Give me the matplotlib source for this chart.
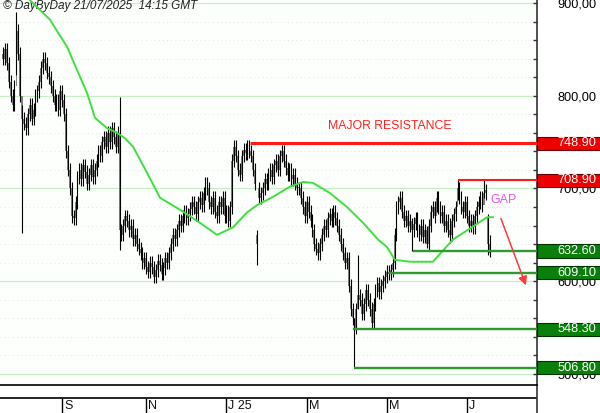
import numpy as np
import matplotlib.pyplot as plt
from matplotlib.patches import Rectangle
from matplotlib.transforms import blended_transform_factory

# -------------------------------
# Data
# -------------------------------

closes = [
    840, 850, 835, 815, 800, 790, 810, 870, 845, 800,
    775, 770, 765, 780, 790, 775, 785, 800, 805, 815,
    830, 840, 835, 825, 820, 810, 800, 790, 795, 785,
    805, 795, 780, 740, 720, 700, 670, 668, 685, 712,
    720, 710, 725, 718, 705, 715, 725, 712, 720, 730,
    740, 735, 750, 755, 745, 760, 750, 765, 755, 745,
    760, 655, 650, 660, 670, 665, 655, 660, 645, 650,
    640, 635, 630, 620, 625, 615, 610, 620, 615, 605,
    612, 622, 618, 608, 614, 625, 620, 630, 640, 650,
    645, 655, 665, 660, 670, 675, 668, 672, 678, 685,
    680, 672, 685, 690, 682, 695, 705, 700, 685, 680,
    690, 675, 670, 685, 680, 690, 670, 675, 665, 680,
    730, 745, 735, 720, 715, 735, 742, 738, 745, 740,
    735, 720, 705, 640, 690, 695, 700, 710, 705, 715,
    720, 712, 725, 730, 720, 735, 740, 730, 722, 715,
    720, 710, 715, 705, 700, 700, 690, 680, 670, 685,
    675, 665, 655, 640, 635, 630, 640, 650, 660, 655,
    668, 672, 665, 675, 668, 660, 650, 640, 630, 620,
    625, 595, 570, 560, 550, 570, 585, 580, 565, 575,
    590, 580, 570, 555, 575, 590, 598, 588, 595, 600,
    605, 610, 608, 612, 620, 650, 680, 685, 690, 675,
    665, 670, 660, 665, 655, 662, 668, 655, 650, 660,
    648, 655, 640, 660, 675, 680, 670, 690, 680, 670,
    675, 660, 665, 655, 650, 665, 672, 680, 700, 690,
    680, 675, 685, 670, 660, 665, 658, 670, 680, 685,
    690, 682, 695, 698, 640, 630,
]

# bars whose open is not the previous close
open_override = {133: 650, 134: 700, 254: 668, 255: 640}

# bars with long wicks: index -> (high, low)
spikes = {
    7: (890, 822), 10: (790, 652), 61: (799, 634), 133: (655, 618),
    184: (560, 507), 186: (628, 570), 193: (578, 548), 214: (668, 633),
    222: (660, 636), 227: (697, 675), 234: (668, 641), 238: (709, 688),
    252: (709, 690), 254: (672, 628), 255: (650, 626),
}

# moving average (bar index, price)
ma_idx = [12, 14.1, 24.6, 28.8, 33.5, 38.7, 44.0, 48.2, 54.5, 59.7, 63.9,
          68.1, 75.4, 82.2, 92.7, 103.1, 112.0, 120.4, 127.7, 133.0, 141.4,
          150.3, 157.1, 162.3, 171.2, 180.1, 188.5, 196.3, 201.0, 205.2,
          213.1, 225.1, 235.6, 246.1, 253.4, 256.5]
ma_val = [914, 903, 882, 868, 853, 828, 803, 776, 765, 760, 754,
          745, 717, 690, 677, 663, 650, 658, 674, 682, 691,
          702, 707, 706, 695, 680, 663, 645, 637, 623,
          621, 621, 645, 659, 669, 669]

# support / resistance levels
levels = [748.90, 708.90, 632.60, 609.10, 548.30, 506.80]
level_start = [129.3, 238, 214.7, 202, 183, 184]
level_kind = ['r', 'r', 'g', 'g', 'g', 'g']

month_pos = [31, 75, 117, 159, 201, 243]
month_lab = ['S', 'N', 'J 25', 'M', 'M', 'J']

yticks_major = [500, 600, 700, 800, 900]

arrow_from = (260.2, 670.4)
arrow_to = (274.3, 592.7)

# -------------------------------
# Build OHLC
# -------------------------------

c = np.array(closes, dtype=float)
n = len(c)
idx = np.arange(n)
o = np.r_[c[0] + 5, c[:-1]]
for k, v in open_override.items():
    o[k] = v
wick = 7
hi = np.maximum(o, c) + wick
lo = np.minimum(o, c) - wick
for k, (h, l) in spikes.items():
    hi[k] = h
    lo[k] = l

# -------------------------------
# Figure
# -------------------------------

plt.rcParams['font.family'] = ['Liberation Sans', 'DejaVu Sans']
W, H = 600, 413
fig = plt.figure(figsize=(W / 100, H / 100), dpi=100)
fig.patch.set_facecolor('white')

px_per_bar = 1.91
x0 = -3 / px_per_bar
x1 = (537 - 3) / px_per_bar
ax = fig.add_axes([0, 28 / H, 537 / W, 1 - 28 / H])
ax.set_facecolor('#fdfffd')
ax.set_xlim(x0, x1)
ax.set_ylim(488.1, 903.2)

for s in ['left', 'top', 'bottom']:
    ax.spines[s].set_visible(False)
ax.spines['right'].set_linewidth(1.2)
ax.spines['right'].set_color('#333333')

# grid
for v in np.arange(500, 901, 20):
    if v % 100:
        ax.axhline(v, color='#dddddd', lw=0.6, ls=(0, (1, 4)), zorder=0)
for v in yticks_major:
    ax.axhline(v, color='#c6efc6', lw=0.9, zorder=0)

# candles
body_lo = np.minimum(o, c)
body_h = np.maximum(np.abs(c - o), 1.5)
ax.bar(idx, body_h, bottom=body_lo, width=0.9, color='#808080',
       edgecolor='none', zorder=2)
ax.vlines(idx, lo, hi, color='black', lw=0.8, zorder=3)

# moving average
ax.plot(ma_idx, ma_val, color='#3ee03e', lw=1.4, zorder=4)

# levels
for v, st, kd in zip(levels, level_start, level_kind):
    if kd == 'r':
        lw = 2.2 if v > 740 else 1.5
        ax.hlines(v, st, x1, color='#ff1a1a', lw=lw, zorder=5)
    else:
        ax.hlines(v, st, x1, color='#2e9a2e', lw=1.7, zorder=5)

# y axis on the right
ax.yaxis.tick_right()
ax.set_yticks(yticks_major)
ax.set_yticklabels([f"{v:.2f}".replace('.', ',') for v in yticks_major])
ax.set_yticks(np.arange(500, 901, 20), minor=True)
ax.tick_params(axis='y', which='both', direction='in', length=3,
               width=1, color='#333333', pad=15, labelsize=9.2)
ax.tick_params(axis='x', bottom=False, labelbottom=False)

# price boxes
tr = blended_transform_factory(ax.transAxes, ax.transData)
half = 6.6 / 0.9275
for v, kd in zip(levels, level_kind):
    fc = '#ee0000' if kd == 'r' else '#0a800a'
    ec = '#660000' if kd == 'r' else '#003300'
    rect = Rectangle((1.0, v - half), 63 / 537, 2 * half, transform=tr,
                     facecolor=fc, edgecolor=ec, lw=0.8, clip_on=False,
                     zorder=10)
    ax.add_patch(rect)
    ax.text(596 / 537, v, f"{v:.2f}", transform=tr, ha='right',
            va='center', color='white', fontsize=9.2, zorder=11,
            clip_on=False)

# texts
ax.text(389.5 / 537, 1 - 126 / 385, 'MAJOR RESISTANCE', transform=ax.transAxes,
        ha='center', va='center', color='#ff2222', fontsize=8.8)
ax.text(504 / 537, 1 - 200 / 385, 'GAP', transform=ax.transAxes,
        ha='center', va='center', color='#ee55ee', fontsize=9)
ax.text(3 / 537, 1 - 8.5 / 385, '© DayByDay 21/07/2025  14:15 GMT',
        transform=ax.transAxes, ha='left', va='baseline', color='#222222',
        fontsize=8.5, style='italic')

ax.annotate('', xy=arrow_to, xytext=arrow_from,
            arrowprops=dict(arrowstyle='-|>', color='#ff3b3b', lw=1.1,
                            mutation_scale=13), zorder=6)

# -------------------------------
# Bottom strip with month labels
# -------------------------------

ax2 = fig.add_axes([0, 0, 537 / W, 28 / H])
ax2.set_xlim(x0, x1)
ax2.set_ylim(0, 28)
ax2.set_facecolor('white')
for s in ['left', 'bottom']:
    ax2.spines[s].set_visible(False)
ax2.spines['top'].set_linewidth(1.2)
ax2.spines['right'].set_linewidth(1.2)
ax2.spines['right'].set_color('#333333')
ax2.set_xticks([])
ax2.set_yticks([])
ax2.axhline(15, color='black', lw=1.2)
ax2.vlines(month_pos, 0, 15, color='black', lw=1)
for p, lab in zip(month_pos, month_lab):
    ax2.text(p + 1.0, 7, lab, ha='left', va='center', fontsize=9,
             color='#111111')

fig.savefig('out.png', dpi=100)
